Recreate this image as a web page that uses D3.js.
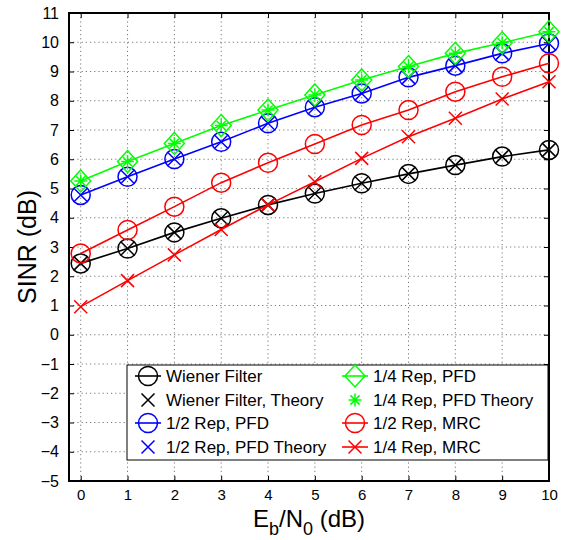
<!DOCTYPE html>
<html>
<head>
<meta charset="utf-8">
<script src="https://cdn.jsdelivr.net/npm/d3@7/dist/d3.min.js"></script>
<style>
  body { margin: 0; background: #fff; }
  svg { display: block; font-family: "Liberation Sans", Arial, Helvetica, sans-serif; }
</style>
</head>
<body>
<svg id="chart" width="564" height="540"></svg>
<script>
// Eb/N0 sweep (dB)
const ebn0 = [0, 1, 2, 3, 4, 5, 6, 7, 8, 9, 10];

// SINR results (dB)
const wiener       = [2.44, 2.95, 3.50, 3.98, 4.44, 4.83, 5.18, 5.50, 5.80, 6.09, 6.32];
const wienerTheory = [2.44, 2.95, 3.50, 3.98, 4.44, 4.83, 5.18, 5.50, 5.80, 6.09, 6.32];
const halfPFD      = [4.78, 5.40, 6.01, 6.60, 7.23, 7.78, 8.25, 8.80, 9.20, 9.62, 9.96];
const halfTheory   = [4.78, 5.40, 6.01, 6.60, 7.23, 7.78, 8.25, 8.80, 9.20, 9.62, 9.96];
const quarterPFD   = [5.26, 5.92, 6.54, 7.15, 7.68, 8.20, 8.71, 9.17, 9.62, 9.98, 10.36];
const quarterTheory= [5.26, 5.92, 6.54, 7.15, 7.68, 8.20, 8.71, 9.17, 9.62, 9.98, 10.36];
const halfMRC      = [2.78, 3.58, 4.38, 5.20, 5.88, 6.52, 7.17, 7.68, 8.31, 8.82, 9.28];
const quarterMRC   = [0.96, 1.85, 2.73, 3.60, 4.44, 5.23, 6.03, 6.77, 7.40, 8.06, 8.65];

const xTicks = [0, 1, 2, 3, 4, 5, 6, 7, 8, 9, 10];
const yTicks = [-5, -4, -3, -2, -1, 0, 1, 2, 3, 4, 5, 6, 7, 8, 9, 10, 11];

const series = [
  { name: "Wiener Filter",          values: wiener,        color: "#000000", marker: "circle",   line: true  },
  { name: "Wiener Filter, Theory",  values: wienerTheory,  color: "#000000", marker: "x",        line: false },
  { name: "1/2 Rep, PFD",           values: halfPFD,       color: "#0000ff", marker: "circle",   line: true  },
  { name: "1/2 Rep, PFD Theory",    values: halfTheory,    color: "#0000ff", marker: "x",        line: false },
  { name: "1/4 Rep, PFD",           values: quarterPFD,    color: "#00ff00", marker: "diamond",  line: true  },
  { name: "1/4 Rep, PFD Theory",    values: quarterTheory, color: "#00ff00", marker: "asterisk", line: false },
  { name: "1/2 Rep, MRC",           values: halfMRC,       color: "#ff0000", marker: "circle",   line: true  },
  { name: "1/4 Rep, MRC",           values: quarterMRC,    color: "#ff0000", marker: "x",        line: true  }
];

const svg = d3.select("#chart");
const pL = 69, pR = 549, pT = 13, pB = 481;

const x = d3.scaleLinear().domain([-0.25, 10]).range([pL, pR]);
const y = d3.scaleLinear().domain([-5, 11]).range([pB, pT]);

// dotted grid
const grid = svg.append("g");
grid.selectAll(".gx").data(xTicks).join("line")
  .attr("x1", d => x(d)).attr("x2", d => x(d))
  .attr("y1", pT).attr("y2", pB)
  .attr("stroke", "#555").attr("stroke-width", 0.8).attr("stroke-dasharray", "1.2,3");
grid.selectAll(".gy").data(yTicks).join("line")
  .attr("x1", pL).attr("x2", pR)
  .attr("y1", d => y(d)).attr("y2", d => y(d))
  .attr("stroke", "#555").attr("stroke-width", 0.8).attr("stroke-dasharray", "1.2,3");

// axes with inward ticks on all sides
const fmt = d3.format("d");
svg.append("g").attr("transform", `translate(0,${pB})`)
  .call(d3.axisBottom(x).tickValues(xTicks).tickSizeInner(-5).tickSizeOuter(0).tickPadding(8).tickFormat(fmt))
  .call(g => g.select(".domain").remove())
  .call(g => g.selectAll("text").attr("font-size", 15).attr("fill", "#000"));
svg.append("g").attr("transform", `translate(0,${pT})`)
  .call(d3.axisTop(x).tickValues(xTicks).tickSizeInner(-5).tickSizeOuter(0).tickFormat(""))
  .call(g => g.select(".domain").remove());
svg.append("g").attr("transform", `translate(${pL},0)`)
  .call(d3.axisLeft(y).tickValues(yTicks).tickSizeInner(-5).tickSizeOuter(0).tickPadding(10).tickFormat(fmt))
  .call(g => g.select(".domain").remove())
  .call(g => g.selectAll("text").attr("font-size", 16).attr("fill", "#000"));
svg.append("g").attr("transform", `translate(${pR},0)`)
  .call(d3.axisRight(y).tickValues(yTicks).tickSizeInner(-5).tickSizeOuter(0).tickFormat(""))
  .call(g => g.select(".domain").remove());

svg.append("rect").attr("x", pL).attr("y", pT)
  .attr("width", pR - pL).attr("height", pB - pT)
  .attr("fill", "none").attr("stroke", "#000").attr("stroke-width", 2);

// marker drawing
function drawMarker(g, type, color, cx, cy) {
  const s = { stroke: color, "stroke-width": 1.5, fill: "none" };
  const apply = sel => { for (const k in s) sel.attr(k, s[k]); return sel; };
  if (type === "circle") {
    apply(g.append("circle").attr("cx", cx).attr("cy", cy).attr("r", 9.5));
  } else if (type === "diamond") {
    apply(g.append("path").attr("d", `M${cx},${cy - 11}L${cx + 10},${cy}L${cx},${cy + 11}L${cx - 10},${cy}Z`));
  } else if (type === "x") {
    const r = 6.5;
    apply(g.append("path").attr("d", `M${cx - r},${cy - r}L${cx + r},${cy + r}M${cx - r},${cy + r}L${cx + r},${cy - r}`));
  } else if (type === "asterisk") {
    const r = 6.5, q = 4.6;
    apply(g.append("path").attr("d",
      `M${cx - r},${cy}L${cx + r},${cy}M${cx},${cy - r}L${cx},${cy + r}` +
      `M${cx - q},${cy - q}L${cx + q},${cy + q}M${cx - q},${cy + q}L${cx + q},${cy - q}`));
  }
}

const plot = svg.append("g");
const lineGen = d3.line().x((d, i) => x(ebn0[i])).y(d => y(d));
series.forEach(s => {
  const g = plot.append("g");
  if (s.line) {
    g.append("path").attr("d", lineGen(s.values))
      .attr("fill", "none").attr("stroke", s.color).attr("stroke-width", 1.6);
  }
  s.values.forEach((v, i) => drawMarker(g, s.marker, s.color, x(ebn0[i]), y(v)));
});

// legend
const lg = svg.append("g");
lg.append("rect").attr("x", 127).attr("y", 365).attr("width", 421).attr("height", 95)
  .attr("fill", "#fff").attr("stroke", "#000").attr("stroke-width", 1);
const rowY = [376, 400, 423, 447];
const colX = [135, 342];
series.forEach((s, i) => {
  const col = Math.floor(i / 4), row = i % 4;
  const x0 = colX[col], yy = rowY[row];
  const g = lg.append("g");
  if (s.line) {
    g.append("line").attr("x1", x0).attr("x2", x0 + 26).attr("y1", yy).attr("y2", yy)
      .attr("stroke", s.color).attr("stroke-width", 1.6);
  }
  drawMarker(g, s.marker, s.color, x0 + 13, yy);
  g.append("text").attr("x", x0 + 31).attr("y", yy).attr("dy", "0.35em")
    .attr("font-size", 17).attr("fill", "#000").text(s.name);
});

// axis titles
const xt = svg.append("text").attr("x", (pL + pR) / 2).attr("y", 527)
  .attr("text-anchor", "middle").attr("font-size", 24).attr("fill", "#000");
xt.append("tspan").text("E");
xt.append("tspan").attr("font-size", 18).attr("dy", 8).text("b");
xt.append("tspan").attr("dy", -8).text("/N");
xt.append("tspan").attr("font-size", 18).attr("dy", 8).text("0");
xt.append("tspan").attr("dy", -8).text(" (dB)");

svg.append("text").attr("transform", "translate(36,247) rotate(-90)")
  .attr("text-anchor", "middle").attr("font-size", 25).attr("fill", "#000")
  .text("SINR (dB)");
</script>
</body>
</html>
